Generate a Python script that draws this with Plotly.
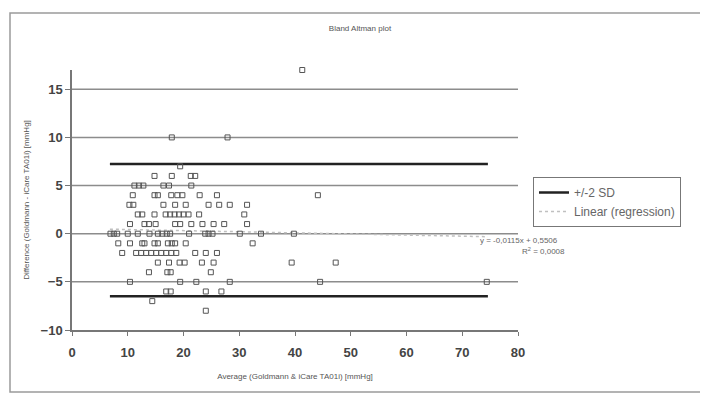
import plotly.graph_objects as go

# ---- data ----
rows = {
    17: [41.3],
    10: [17.9, 27.9],
    7: [19.4],
    6: [14.8, 17.9, 21.3, 22.1],
    5: [11.2, 12.0, 12.8, 16.4, 17.4, 21.4],
    4: [10.9, 14.8, 15.4, 17.8, 18.9, 19.8, 22.9, 26.0, 44.1],
    3: [10.3, 11.0, 16.4, 18.5, 20.4, 24.5, 26.4, 28.3, 31.4],
    2: [11.8, 12.6, 14.8, 16.8, 17.6, 18.4, 19.2, 20.0, 20.9, 22.8, 30.9],
    1: [10.4, 13.0, 13.8, 15.0, 18.5, 19.4, 21.4, 23.4, 25.4, 27.3, 31.4],
    0: [6.9, 7.5, 8.1, 10.0, 11.8, 13.9, 15.4, 16.2, 17.0, 17.6, 21.0, 23.9, 24.5, 25.2, 30.1, 33.9, 39.8],
    -1: [8.3, 10.4, 12.6, 13.0, 14.8, 15.4, 17.2, 17.9, 18.5, 20.4, 32.4],
    -2: [9.0, 11.5, 12.4, 13.3, 14.2, 15.1, 16.0, 16.9, 17.8, 18.7, 22.1, 24.0, 26.0],
    -3: [15.4, 17.4, 19.3, 20.2, 23.3, 25.4, 39.4, 47.3],
    -4: [13.8, 17.1, 17.7, 24.9],
    -5: [10.4, 19.4, 22.3, 28.3, 44.5, 74.4],
    -6: [16.9, 17.7, 24.0, 26.8],
    -7: [14.4],
    -8: [24.0],
}
avg = [x for d, xs in rows.items() for x in xs]
diff = [d for d, xs in rows.items() for x in xs]

sd_x = [6.8, 74.6]
sd_upper = [7.25, 7.25]
sd_lower = [-6.5, -6.5]
reg_x = [6.8, 74.6]
reg_y = [0.47, -0.31]

x_ticks = [0, 10, 20, 30, 40, 50, 60, 70, 80]
y_ticks = [-10, -5, 0, 5, 10, 15]

NARROW = "Liberation Sans Narrow, Arial Narrow, Liberation Sans, sans-serif"
SMALL = "Liberation Sans, Arial, sans-serif"

# page body has an 8px margin; plot area spans image px 72..518 (x), 70..330 (y)
OFF = 8
W, H = 708 - OFF, 394 - OFF
PL, PR, PT, PB = 72, 518, 70, 330


def px(ix):
    return (ix - PL) / (PR - PL)


def py(iy):
    return (PB - iy) / (PB - PT)


fig = go.Figure()

fig.add_trace(go.Scatter(
    x=sd_x, y=sd_upper, mode="lines", name="+/-2 SD",
    line=dict(color="#222222", width=2.5),
))
fig.add_trace(go.Scatter(
    x=sd_x, y=sd_lower, mode="lines", showlegend=False,
    line=dict(color="#222222", width=2.5),
))
fig.add_trace(go.Scatter(
    x=reg_x, y=reg_y, mode="lines", name="Linear (regression)",
    line=dict(color="#c0c0c0", width=1.5, dash="dot"),
))
fig.add_trace(go.Scatter(
    x=avg, y=diff, mode="markers", showlegend=False, cliponaxis=False,
    marker=dict(symbol="square-open", size=5, color="#555555", line=dict(width=1, color="#555555")),
))

# horizontal gridlines drawn from the y tick values (excluding axis at -10)
for yv in y_ticks[1:]:
    fig.add_shape(type="line", xref="x", yref="y", x0=x_ticks[0], x1=x_ticks[-1], y0=yv, y1=yv,
                  line=dict(color="#8c8c8c", width=1.5), layer="below")

# chart area border and stray lines at top
fig.add_shape(type="rect", xref="paper", yref="paper",
              x0=px(10), x1=px(712), y0=py(392), y1=py(13),
              line=dict(color="#9a9a9a", width=1.5))
fig.add_shape(type="line", xref="paper", yref="paper",
              x0=px(5), x1=px(45), y0=py(6), y1=py(6),
              line=dict(color="#c8c8c8", width=1))
fig.add_shape(type="line", xref="paper", yref="paper",
              x0=px(472), x1=px(710), y0=py(6), y1=py(6),
              line=dict(color="#c8c8c8", width=1))

fig.add_annotation(xref="paper", yref="paper", x=px(560), y=py(240),
                   text="y = -0,0115x + 0,5506", showarrow=False,
                   font=dict(family=SMALL, size=8, color="#666666"))
fig.add_annotation(xref="paper", yref="paper", x=px(567), y=py(258),
                   text="R<sup>2</sup> = 0,0008", showarrow=False,
                   font=dict(family=SMALL, size=8, color="#666666"))

fig.update_layout(
    width=W, height=H,
    margin=dict(l=PL - OFF, r=W - (PR - OFF), t=PT - OFF, b=H - (PB - OFF)),
    paper_bgcolor="white", plot_bgcolor="white",
    title=dict(text="Bland Altman plot", x=(360 - OFF) / W, xanchor="center",
               y=1 - (28 - OFF) / H, yanchor="middle",
               font=dict(family=SMALL, size=8, color="#555555")),
    legend=dict(x=px(533), y=py(177), xanchor="left", yanchor="top",
                bordercolor="#777777", borderwidth=1, bgcolor="white",
                font=dict(family=SMALL, size=12, color="#666666"),
                tracegroupgap=0, itemwidth=30),
    showlegend=True,
)
fig.update_xaxes(
    range=[0, 80], tickvals=x_ticks, showgrid=False, zeroline=False, automargin=False,
    showline=True, linecolor="#777777", linewidth=1.5,
    ticks="outside", ticklen=4, tickcolor="#777777", ticklabelstandoff=6,
    tickfont=dict(family=NARROW, size=13, color="#444444", weight="bold"),
    title=dict(text="Average (Goldmann & iCare TA01i) [mmHg]", standoff=14,
               font=dict(family=SMALL, size=8, color="#555555")),
)
fig.update_yaxes(
    range=[-10, 17], tickvals=y_ticks, showgrid=False, zeroline=False, automargin=False,
    showline=True, linecolor="#777777", linewidth=1.5,
    ticks="outside", ticklen=5, tickcolor="#777777",
    tickfont=dict(family=NARROW, size=13, color="#444444", weight="bold"),
    title=dict(text="Difference (Goldmann - iCare TA01i) [mmHg]", standoff=10,
               font=dict(family=SMALL, size=8, color="#555555")),
)

fig.write_html("out.html")
